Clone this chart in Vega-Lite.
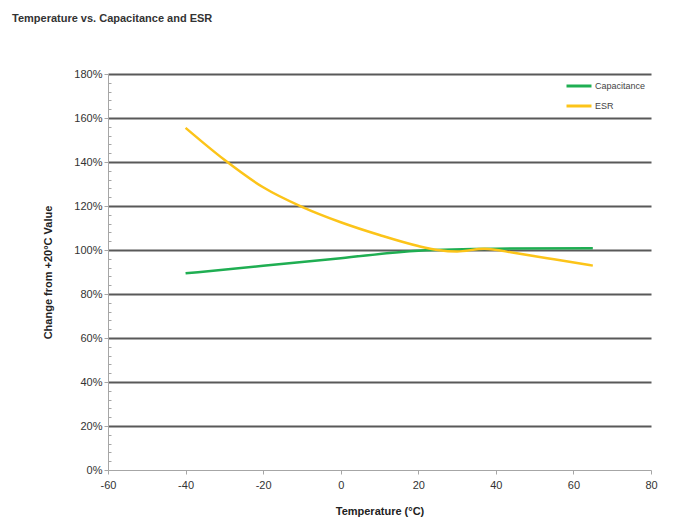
{
  "$schema": "https://vega.github.io/schema/vega-lite/v6.json",
  "width": 543,
  "height": 396,
  "autosize": "none",
  "padding": {"left": 108, "top": 74, "right": 24, "bottom": 56},
  "background": "white",
  "title": {
    "text": "Temperature vs. Capacitance and ESR",
    "anchor": "start",
    "frame": "group",
    "dx": -96,
    "offset": 33,
    "baseline": "bottom",
    "font": "Liberation Sans",
    "fontSize": 11,
    "fontWeight": "bold",
    "color": "#333333"
  },
  "config": {
    "view": {"stroke": null},
    "font": "Liberation Sans"
  },
  "data": {
    "values": [
      {"temp": -40, "value": 89.4, "series": "Capacitance"},
      {"temp": -20, "value": 92.8, "series": "Capacitance"},
      {"temp": 0, "value": 96.3, "series": "Capacitance"},
      {"temp": 20, "value": 99.7, "series": "Capacitance"},
      {"temp": 40, "value": 100.6, "series": "Capacitance"},
      {"temp": 65, "value": 100.8, "series": "Capacitance"},
      {"temp": -40, "value": 155.5, "series": "ESR"},
      {"temp": -30, "value": 141, "series": "ESR"},
      {"temp": -20, "value": 128.5, "series": "ESR"},
      {"temp": -10, "value": 119.6, "series": "ESR"},
      {"temp": 0, "value": 112.6, "series": "ESR"},
      {"temp": 10, "value": 106.8, "series": "ESR"},
      {"temp": 20, "value": 101.8, "series": "ESR"},
      {"temp": 25, "value": 100.0, "series": "ESR"},
      {"temp": 30, "value": 99.3, "series": "ESR"},
      {"temp": 37, "value": 100.6, "series": "ESR"},
      {"temp": 45, "value": 98.6, "series": "ESR"},
      {"temp": 55, "value": 95.8, "series": "ESR"},
      {"temp": 65, "value": 92.9, "series": "ESR"}
    ]
  },
  "mark": {"type": "line", "interpolate": "monotone", "strokeWidth": 2.5},
  "encoding": {
    "x": {
      "field": "temp",
      "type": "quantitative",
      "title": "Temperature (°C)",
      "scale": {"domain": [-60, 80], "nice": false},
      "axis": {
        "values": [-60, -40, -20, 0, 20, 40, 60, 80],
        "labelExpr": "'' + datum.value",
        "labelFlush": false,
        "grid": false,
        "domainColor": "#a6a6a6",
        "domainWidth": 1,
        "tickColor": "#a6a6a6",
        "tickSize": 4,
        "labelFont": "Liberation Sans",
        "labelFontSize": 11,
        "labelColor": "#333333",
        "labelPadding": 5,
        "titleFont": "Liberation Sans",
        "titleFontSize": 11,
        "titleFontWeight": "bold",
        "titleColor": "#222222",
        "titlePadding": 15
      }
    },
    "y": {
      "field": "value",
      "type": "quantitative",
      "title": "Change from +20°C Value",
      "scale": {"domain": [0, 180], "nice": false},
      "axis": {
        "values": [0, 4, 8, 12, 16, 20, 24, 28, 32, 36, 40, 44, 48, 52, 56, 60, 64, 68, 72, 76, 80, 84, 88, 92, 96, 100, 104, 108, 112, 116, 120, 124, 128, 132, 136, 140, 144, 148, 152, 156, 160, 164, 168, 172, 176, 180],
        "labelExpr": "datum.value % 20 === 0 ? datum.value + '%' : ''",
        "labelFlush": false,
        "grid": true,
        "gridColor": "#595959",
        "gridWidth": 2,
        "gridOpacity": {"condition": {"test": "datum.value > 0 && datum.value % 20 === 0", "value": 1}, "value": 0},
        "domainColor": "#a6a6a6",
        "domainWidth": 1,
        "tickColor": "#a6a6a6",
        "tickSize": {"condition": {"test": "datum.value % 20 === 0", "value": 4}, "value": -3},
        "labelFont": "Liberation Sans",
        "labelFontSize": 11,
        "labelColor": "#333333",
        "labelPadding": 2,
        "titleFont": "Liberation Sans",
        "titleFontSize": 11,
        "titleFontWeight": "bold",
        "titleColor": "#222222",
        "titlePadding": 20
      }
    },
    "color": {
      "field": "series",
      "type": "nominal",
      "scale": {"domain": ["Capacitance", "ESR"], "range": ["#1fae52", "#fcc419"]},
      "legend": {
        "title": null,
        "orient": "none",
        "legendX": 457,
        "legendY": -2,
        "symbolType": "stroke",
        "symbolSize": 625,
        "symbolStrokeWidth": 3,
        "labelFont": "Liberation Sans",
        "labelFontSize": 9,
        "labelColor": "#444444",
        "labelOffset": 2,
        "rowPadding": -5
      }
    }
  }
}
